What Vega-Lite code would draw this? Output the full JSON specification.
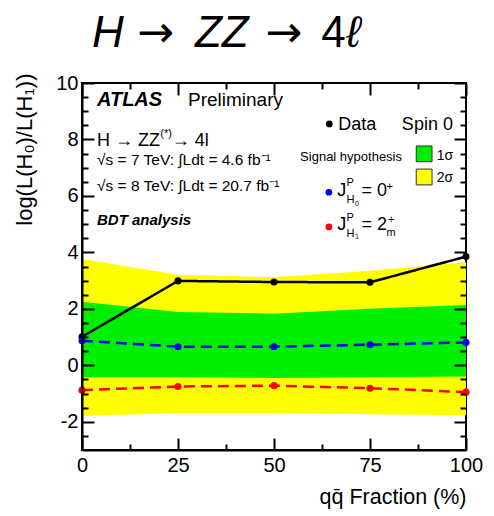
{
  "$schema": "https://vega.github.io/schema/vega-lite/v6.json",
  "width": 384,
  "height": 367,
  "autosize": {"type": "none"},
  "padding": {"left": 82, "top": 83, "right": 28, "bottom": 66},
  "background": "white",
  "config": {
    "view": {"stroke": "black", "strokeWidth": 2},
    "font": "Liberation Sans"
  },
  "resolve": {"axis": {"y": "independent"}},
  "datasets": {
    "bands": [
      {"frac": 0, "lo2": -1.8, "lo1": -0.42, "hi1": 2.25, "hi2": 3.77},
      {"frac": 25, "lo2": -1.69, "lo1": -0.42, "hi1": 1.89, "hi2": 3.21},
      {"frac": 50, "lo2": -1.69, "lo1": -0.45, "hi1": 1.83, "hi2": 3.12},
      {"frac": 75, "lo2": -1.73, "lo1": -0.42, "hi1": 2.0, "hi2": 3.35},
      {"frac": 100, "lo2": -1.77, "lo1": -0.4, "hi1": 2.14, "hi2": 3.65}
    ],
    "series": [
      {"frac": 0, "series": "Data", "value": 1.01},
      {"frac": 25, "series": "Data", "value": 2.99},
      {"frac": 50, "series": "Data", "value": 2.95},
      {"frac": 75, "series": "Data", "value": 2.94},
      {"frac": 100, "series": "Data", "value": 3.85},
      {"frac": 0, "series": "H0", "value": 0.87},
      {"frac": 25, "series": "H0", "value": 0.66},
      {"frac": 50, "series": "H0", "value": 0.66},
      {"frac": 75, "series": "H0", "value": 0.73},
      {"frac": 100, "series": "H0", "value": 0.81},
      {"frac": 0, "series": "H1", "value": -0.88},
      {"frac": 25, "series": "H1", "value": -0.75},
      {"frac": 50, "series": "H1", "value": -0.72},
      {"frac": 75, "series": "H1", "value": -0.81},
      {"frac": 100, "series": "H1", "value": -0.95}
    ]
  },
  "layer": [
    {
      "data": {"name": "bands"},
      "mark": {"type": "area", "color": "#ffff00", "opacity": 1},
      "encoding": {
        "x": {
          "field": "frac", "type": "quantitative",
          "scale": {"domain": [0, 100], "nice": false, "zero": false},
          "axis": {
            "orient": "bottom",
            "zindex": 1,
            "title": "qq̄ Fraction (%)",
            "titleAnchor": "end",
            "titleFont": "Liberation Sans",
            "titleFontSize": 21.5,
            "titleFontWeight": "normal",
            "titleColor": "black",
            "titlePadding": 11,
            "values": [0, 6.25, 12.5, 18.75, 25, 31.25, 37.5, 43.75, 50, 56.25, 62.5, 68.75, 75, 81.25, 87.5, 93.75, 100],
            "labelExpr": "datum.value % 25 === 0 ? '' + datum.value : ''",
            "labelOverlap": false,
            "labelFlush": false,
            "labelFont": "Liberation Sans",
            "labelFontSize": 20,
            "labelColor": "black",
            "labelPadding": 5,
            "ticks": false,
            "domainColor": "black",
            "domainWidth": 2,
            "grid": true,
            "gridColor": "black",
            "gridOpacity": 1,
            "gridWidth": 2,
            "gridDash": {"condition": {"test": "datum.value % 25 === 0", "value": [12, 343, 12, 400]}, "value": [6, 355, 6, 400]}
          }
        },
        "y": {
          "field": "lo2", "type": "quantitative",
          "scale": {"domain": [-3, 10], "nice": false, "zero": false},
          "axis": {
            "orient": "left",
            "zindex": 1,
            "title": "log(L(H₀)/L(H₁))",
            "titleFont": "Liberation Sans",
            "titleFontSize": 22,
            "titleFontWeight": "normal",
            "titleColor": "black",
            "titleAngle": 270,
            "titleAlign": "right",
            "titleBaseline": "middle",
            "titleX": -58,
            "titleY": -10,
            "values": [-2, 0, 2, 4, 6, 8, 10],
            "labelExpr": "'' + datum.value",
            "labelOverlap": false,
            "labelFlush": false,
            "labelFont": "Liberation Sans",
            "labelFontSize": 20,
            "labelColor": "black",
            "labelPadding": 4,
            "ticks": false,
            "domainColor": "black",
            "domainWidth": 2,
            "grid": true,
            "gridColor": "black",
            "gridOpacity": 1,
            "gridWidth": 2,
            "gridDash": [12, 360, 12, 400]
          }
        },
        "y2": {"field": "hi2"}
      }
    },
    {
      "data": {"name": "bands"},
      "mark": {"type": "area", "color": "#00ee00", "opacity": 1},
      "encoding": {
        "x": {"field": "frac", "type": "quantitative"},
        "y": {
          "field": "lo1", "type": "quantitative",
          "axis": {
            "orient": "left",
            "zindex": 1,
            "title": null,
            "labels": false,
            "domain": false,
            "ticks": false,
            "values": [-2.5, -1.5, -1, -0.5, 0.5, 1, 1.5, 2.5, 3, 3.5, 4.5, 5, 5.5, 6.5, 7, 7.5, 8.5, 9, 9.5],
            "grid": true,
            "gridColor": "black",
            "gridOpacity": 1,
            "gridWidth": 2,
            "gridDash": [6, 372, 6, 400]
          }
        },
        "y2": {"field": "hi1"}
      }
    },
    {
      "data": {"name": "series"},
      "mark": {"type": "line", "strokeWidth": 2.5},
      "encoding": {
        "x": {"field": "frac", "type": "quantitative"},
        "y": {"field": "value", "type": "quantitative", "axis": null},
        "color": {"field": "series", "type": "nominal", "legend": null,
          "scale": {"domain": ["Data", "H0", "H1"], "range": ["black", "#0000ff", "#ff0000"]}},
        "strokeDash": {"field": "series", "type": "nominal", "legend": null,
          "scale": {"domain": ["Data", "H0", "H1"], "range": [[1, 0], [11, 6], [11, 6]]}}
      }
    },
    {
      "data": {"name": "series"},
      "mark": {"type": "point", "filled": true, "opacity": 1, "size": 50},
      "encoding": {
        "x": {"field": "frac", "type": "quantitative"},
        "y": {"field": "value", "type": "quantitative", "axis": null},
        "color": {"field": "series", "type": "nominal", "legend": null}
      }
    },
    {
      "data": {"values": [
        {"x": 64.4, "y": 8.55, "series": "Data"},
        {"x": 64.3, "y": 6.13, "series": "H0"},
        {"x": 64.3, "y": 4.9, "series": "H1"}
      ]},
      "mark": {"type": "point", "filled": true, "opacity": 1, "size": 45},
      "encoding": {
        "x": {"field": "x", "type": "quantitative"},
        "y": {"field": "y", "type": "quantitative", "axis": null},
        "color": {"field": "series", "type": "nominal", "legend": null}
      }
    },
    {
      "data": {"values": [
        {"x": 89.1, "y": 7.49, "band": "1σ"},
        {"x": 89.1, "y": 6.67, "band": "2σ"}
      ]},
      "mark": {"type": "point", "shape": "square", "filled": true, "opacity": 1, "size": 250, "stroke": "#333333", "strokeWidth": 1},
      "encoding": {
        "x": {"field": "x", "type": "quantitative"},
        "y": {"field": "y", "type": "quantitative", "axis": null},
        "fill": {"field": "band", "type": "nominal", "legend": null,
          "scale": {"domain": ["1σ", "2σ"], "range": ["#00ee00", "#ffff00"]}}
      }
    },
    {
      "data": {"values": [
        {"x": 2.6, "y": 11.28, "text": "H"},
        {"x": 29.4, "y": 11.28, "text": "ZZ"},
        {"x": 68.8, "y": 11.28, "text": "ℓ"}
      ]},
      "mark": {"type": "text", "align": "left", "baseline": "alphabetic", "font": "Liberation Sans", "fontSize": 44, "fontStyle": "italic", "color": "black"},
      "encoding": {
        "x": {"field": "x", "type": "quantitative"},
        "y": {"field": "y", "type": "quantitative", "axis": null},
        "text": {"field": "text"}
      }
    },
    {
      "data": {"values": [{"x": 62.3, "y": 11.28, "text": "4"}]},
      "mark": {"type": "text", "align": "left", "baseline": "alphabetic", "font": "Liberation Sans", "fontSize": 44, "color": "black"},
      "encoding": {
        "x": {"field": "x", "type": "quantitative"},
        "y": {"field": "y", "type": "quantitative", "axis": null},
        "text": {"field": "text"}
      }
    },
    {
      "data": {"values": [
        {"x": 14.3, "y": 11.28, "text": "→"},
        {"x": 47.7, "y": 11.28, "text": "→"}
      ]},
      "mark": {"type": "text", "align": "left", "baseline": "alphabetic", "font": "DejaVu Sans", "fontSize": 44, "color": "black"},
      "encoding": {
        "x": {"field": "x", "type": "quantitative"},
        "y": {"field": "y", "type": "quantitative", "axis": null},
        "text": {"field": "text"}
      }
    },
    {
      "data": {"values": [{"x": 3.9, "y": 9.17, "text": "ATLAS"}]},
      "mark": {"type": "text", "align": "left", "baseline": "alphabetic", "font": "Liberation Sans", "fontSize": 20, "fontWeight": "bold", "fontStyle": "italic", "color": "black"},
      "encoding": {
        "x": {"field": "x", "type": "quantitative"},
        "y": {"field": "y", "type": "quantitative", "axis": null},
        "text": {"field": "text"}
      }
    },
    {
      "data": {"values": [{"x": 3.9, "y": 4.96, "text": "BDT analysis"}]},
      "mark": {"type": "text", "align": "left", "baseline": "alphabetic", "font": "Liberation Sans", "fontSize": 15, "fontWeight": "bold", "fontStyle": "italic", "color": "black"},
      "encoding": {
        "x": {"field": "x", "type": "quantitative"},
        "y": {"field": "y", "type": "quantitative", "axis": null},
        "text": {"field": "text"}
      }
    },
    {
      "data": {"values": [{"x": 27.6, "y": 9.17, "text": "Preliminary"}]},
      "mark": {"type": "text", "align": "left", "baseline": "alphabetic", "font": "Liberation Sans", "fontSize": 19, "color": "black"},
      "encoding": {
        "x": {"field": "x", "type": "quantitative"},
        "y": {"field": "y", "type": "quantitative", "axis": null},
        "text": {"field": "text"}
      }
    },
    {
      "data": {"values": [
        {"x": 3.9, "y": 7.78, "text": "H → ZZ"},
        {"x": 23.4, "y": 7.78, "text": "→ 4l"},
        {"x": 66.7, "y": 8.32, "text": "Data"},
        {"x": 83.3, "y": 8.32, "text": "Spin 0"},
        {"x": 66.5, "y": 6.01, "text": "J"},
        {"x": 72.8, "y": 6.01, "text": "= 0"},
        {"x": 66.5, "y": 4.78, "text": "J"},
        {"x": 72.8, "y": 4.78, "text": "= 2"}
      ]},
      "mark": {"type": "text", "align": "left", "baseline": "alphabetic", "font": "Liberation Sans", "fontSize": 18, "color": "black"},
      "encoding": {
        "x": {"field": "x", "type": "quantitative"},
        "y": {"field": "y", "type": "quantitative", "axis": null},
        "text": {"field": "text"}
      }
    },
    {
      "data": {"values": [
        {"x": 3.9, "y": 7.1, "text": "√s = 7 TeV: ∫Ldt = 4.6 fb⁻¹"},
        {"x": 3.9, "y": 6.16, "text": "√s = 8 TeV: ∫Ldt = 20.7 fb⁻¹"}
      ]},
      "mark": {"type": "text", "align": "left", "baseline": "alphabetic", "font": "Liberation Sans", "fontSize": 15.5, "color": "black"},
      "encoding": {
        "x": {"field": "x", "type": "quantitative"},
        "y": {"field": "y", "type": "quantitative", "axis": null},
        "text": {"field": "text"}
      }
    },
    {
      "data": {"values": [
        {"x": 92.4, "y": 7.26, "text": "1σ"},
        {"x": 92.4, "y": 6.49, "text": "2σ"}
      ]},
      "mark": {"type": "text", "align": "left", "baseline": "alphabetic", "font": "Liberation Sans", "fontSize": 14, "color": "black"},
      "encoding": {
        "x": {"field": "x", "type": "quantitative"},
        "y": {"field": "y", "type": "quantitative", "axis": null},
        "text": {"field": "text"}
      }
    },
    {
      "data": {"values": [{"x": 56.8, "y": 7.25, "text": "Signal hypothesis"}]},
      "mark": {"type": "text", "align": "left", "baseline": "alphabetic", "font": "Liberation Sans", "fontSize": 13, "color": "black"},
      "encoding": {
        "x": {"field": "x", "type": "quantitative"},
        "y": {"field": "y", "type": "quantitative", "axis": null},
        "text": {"field": "text"}
      }
    },
    {
      "data": {"values": [
        {"x": 20.4, "y": 8.1, "text": "(*)"},
        {"x": 68.9, "y": 6.34, "text": "P"},
        {"x": 68.9, "y": 5.75, "text": "H"},
        {"x": 79.3, "y": 6.22, "text": "+"},
        {"x": 68.9, "y": 5.12, "text": "P"},
        {"x": 68.9, "y": 4.54, "text": "H"},
        {"x": 79.7, "y": 5.04, "text": "+"},
        {"x": 79.3, "y": 4.57, "text": "m"}
      ]},
      "mark": {"type": "text", "align": "left", "baseline": "alphabetic", "font": "Liberation Sans", "fontSize": 11, "color": "black"},
      "encoding": {
        "x": {"field": "x", "type": "quantitative"},
        "y": {"field": "y", "type": "quantitative", "axis": null},
        "text": {"field": "text"}
      }
    },
    {
      "data": {"values": [
        {"x": 71.1, "y": 5.65, "text": "0"},
        {"x": 71.1, "y": 4.47, "text": "1"}
      ]},
      "mark": {"type": "text", "align": "left", "baseline": "alphabetic", "font": "Liberation Sans", "fontSize": 7, "color": "black"},
      "encoding": {
        "x": {"field": "x", "type": "quantitative"},
        "y": {"field": "y", "type": "quantitative", "axis": null},
        "text": {"field": "text"}
      }
    }
  ]
}
